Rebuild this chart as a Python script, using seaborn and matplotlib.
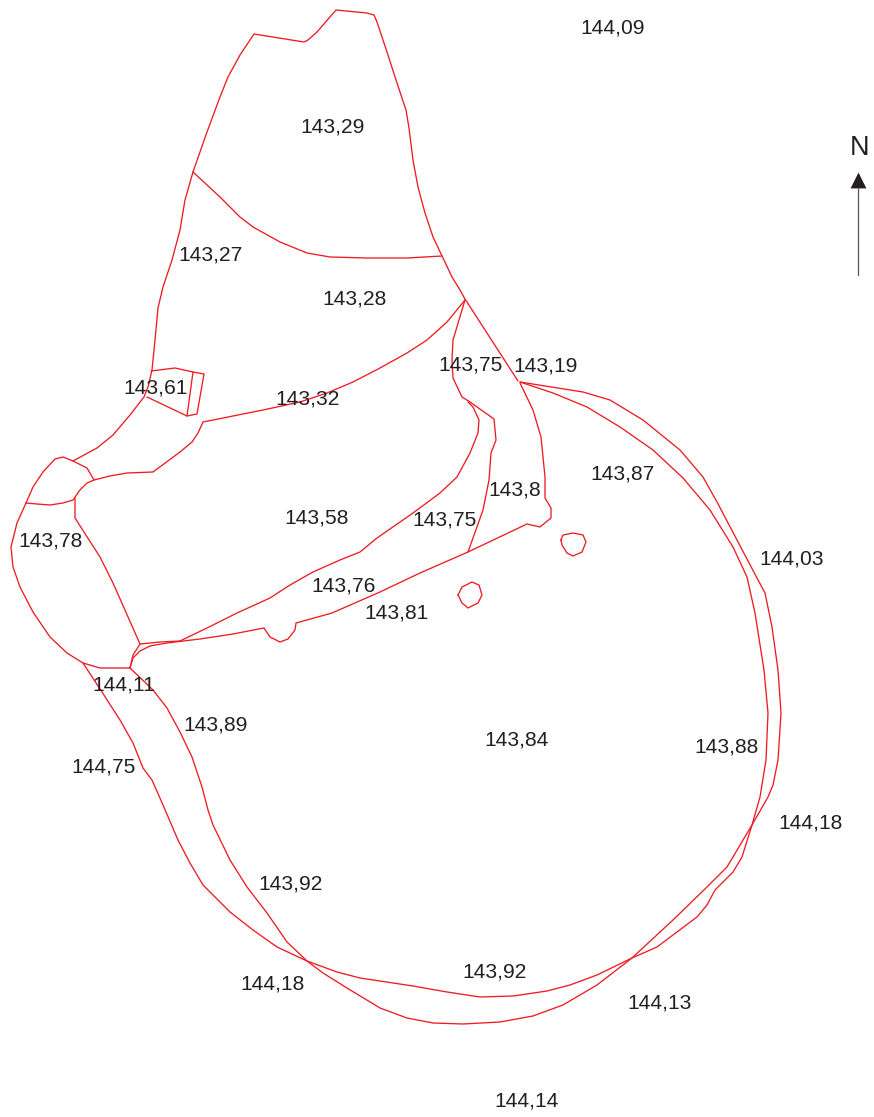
# plot.py
# Map of surveyed parcels with spot heights, traced in picture coordinates

import pandas as pd
import matplotlib
matplotlib.use('Agg')
import matplotlib.pyplot as plt
import seaborn as sns

RED = '#ED1C24'
DARK = '#231F20'

# Parcel boundaries (x, y, y going down)
top_outline = [(193, 172), (207, 132), (220, 97), (228, 77), (240, 55), (254, 34), (304, 42), (308, 40), (317, 32),
               (336, 10), (367, 13), (374, 15), (377, 22), (387, 52), (397, 83), (406, 110), (409, 128), (413, 160),
               (418, 187), (425, 213), (433, 237), (442, 256), (452, 277), (460, 290), (465, 299), (518, 381)]
west_side = [(193, 172), (185, 200), (180, 230), (172, 260), (163, 287), (158, 308), (155, 340), (152, 370),
             (148, 387), (144, 397), (130, 415), (113, 435), (97, 448), (73, 461)]
top_cross = [(193, 172), (220, 197), (240, 217), (253, 227), (280, 242), (307, 253), (330, 257), (367, 258),
             (407, 258), (442, 256)]
middle_cross = [(465, 300), (447, 322), (427, 340), (407, 353), (380, 368), (353, 382), (327, 393), (300, 402),
                (263, 410), (203, 422), (198, 433), (192, 442), (180, 452), (153, 472), (127, 473), (110, 476),
                (94, 480), (87, 483), (80, 490), (73, 500), (63, 503), (50, 505), (37, 504), (26, 503)]
west_blob = [(26, 503), (33, 487), (43, 472), (55, 459), (63, 457), (73, 461), (87, 468), (94, 480)]
far_west = [(26, 503), (17, 523), (11, 547), (13, 567), (20, 587), (33, 612), (50, 637), (67, 653), (83, 663),
            (100, 668), (130, 668)]
west_inner = [(75, 498), (75, 518), (100, 557), (113, 583), (140, 644), (133, 655), (130, 668)]
small_plot = [(151, 371), (175, 368), (193, 372), (204, 374), (197, 414), (187, 416), (147, 397)]
small_plot_div = [(193, 372), (187, 416)]
strip_upper = [(140, 644), (160, 642), (180, 641), (207, 628), (237, 613), (270, 598), (290, 585), (313, 572),
               (340, 560), (360, 552), (377, 538), (413, 513), (440, 493), (457, 477), (470, 453), (478, 433),
               (479, 420), (473, 407), (468, 402)]
strip_lower = [(130, 668), (133, 658), (140, 651), (150, 646), (167, 643), (200, 639), (233, 634), (264, 628),
               (270, 637), (280, 642), (288, 639), (295, 630), (296, 623), (332, 613), (380, 592), (420, 573),
               (468, 552), (527, 524), (540, 527), (551, 518), (551, 508), (545, 498), (545, 477), (541, 437),
               (533, 410), (520, 383)]
centre_plot = [(465, 300), (453, 340), (452, 360), (453, 378), (462, 397), (470, 402), (494, 419), (496, 440),
               (491, 453), (489, 480), (483, 510), (468, 552)]
pond_east = [(561, 540), (563, 535), (573, 533), (583, 535), (586, 542), (582, 552), (573, 556), (567, 553),
             (562, 545), (561, 540)]
pond_west = [(458, 595), (462, 587), (472, 582), (479, 585), (482, 595), (478, 603), (468, 608), (462, 603),
             (458, 595)]
# outer line on the east side, runs on into the lower loop and the 143,89 side
ring_east = [(520, 382), (583, 392), (610, 400), (643, 420), (680, 450), (703, 477), (717, 502), (737, 540),
             (757, 578), (765, 593), (772, 627), (778, 670), (781, 713), (778, 760), (773, 785), (768, 797),
             (752, 825), (727, 867), (707, 887), (673, 920), (632, 958), (597, 985), (563, 1005), (533, 1016),
             (500, 1022), (463, 1024), (433, 1023), (407, 1018), (380, 1008), (347, 988), (323, 973), (307, 961),
             (287, 942), (267, 913), (247, 887), (230, 860), (213, 825), (208, 810), (202, 787), (192, 757),
             (180, 732), (167, 708), (153, 690), (130, 668)]
# inner line on the east side, runs on into the upper loop and the 144,75 side
ring_west = [(520, 382), (553, 393), (587, 407), (620, 427), (653, 450), (683, 478), (710, 510), (733, 547),
             (747, 577), (755, 613), (764, 670), (768, 713), (766, 760), (760, 797), (752, 825), (742, 857),
             (733, 872), (715, 890), (707, 905), (697, 917), (677, 932), (657, 947), (632, 958), (597, 975),
             (570, 985), (547, 991), (513, 996), (480, 997), (447, 992), (413, 986), (360, 978), (337, 972),
             (307, 961), (277, 947), (253, 930), (230, 912), (203, 885), (190, 863), (178, 840), (163, 805),
             (152, 780), (143, 768), (133, 743), (120, 720), (102, 692), (83, 663)]

boundaries = [top_outline, west_side, top_cross, middle_cross, west_blob, far_west, west_inner, small_plot,
              small_plot_div, strip_upper, strip_lower, centre_plot, pond_east, pond_west, ring_east, ring_west]

# Spot heights
height_labels = ['144,09', '143,29', '143,27', '143,28', '143,75', '143,19', '143,61', '143,32', '143,87',
                 '143,8', '143,58', '143,75', '143,78', '144,03', '143,76', '143,81', '144,11', '143,89',
                 '143,84', '143,88', '144,75', '144,18', '143,92', '143,92', '144,18', '144,13', '144,14']
label_x = [613, 333, 211, 354, 471, 546, 156, 308, 623, 515, 317, 445, 50, 792, 344, 396, 124, 216, 517, 727, 104,
           811, 291, 495, 272, 660, 527]
label_y = [27, 126, 254, 298, 364, 365, 387, 398, 473, 489, 517, 519, 540, 558, 585, 612, 684, 724, 739, 746, 766,
           822, 883, 971, 983, 1002, 1100]

# North arrow
arrow_x = [858, 858]
arrow_y = [188, 275]

sns.set_theme(style='white')
plt.rcParams['font.family'] = ['Liberation Sans', 'DejaVu Sans']

fig = plt.figure(figsize=(8.74, 11.17), dpi=100)
ax = fig.add_axes([0, 0, 1, 1])

rows = []
for i, line in enumerate(boundaries):
    for order, (x, y) in enumerate(line):
        rows.append({'x': x, 'y': y, 'line': i, 'order': order})
df = pd.DataFrame(rows)

sns.lineplot(data=df, x='x', y='y', units='line', estimator=None, sort=False, color=RED, linewidth=0.95, ax=ax)

sns.lineplot(x=arrow_x, y=arrow_y, estimator=None, sort=False, color='#555555', linewidth=0.9, ax=ax)
sns.scatterplot(x=[858], y=[180], marker='^', s=130, color=DARK, linewidth=0, ax=ax)

for text, x, y in zip(height_labels, label_x, label_y):
    ax.text(x, y + 6.5, text, ha='center', va='baseline', fontsize=15.1, color=DARK)
ax.text(859.5, 155, 'N', ha='center', va='baseline', fontsize=19.5, color=DARK)

ax.set_xlim(0, 874)
ax.set_ylim(1117, 0)
ax.axis('off')

fig.savefig('out.png', dpi=100)
